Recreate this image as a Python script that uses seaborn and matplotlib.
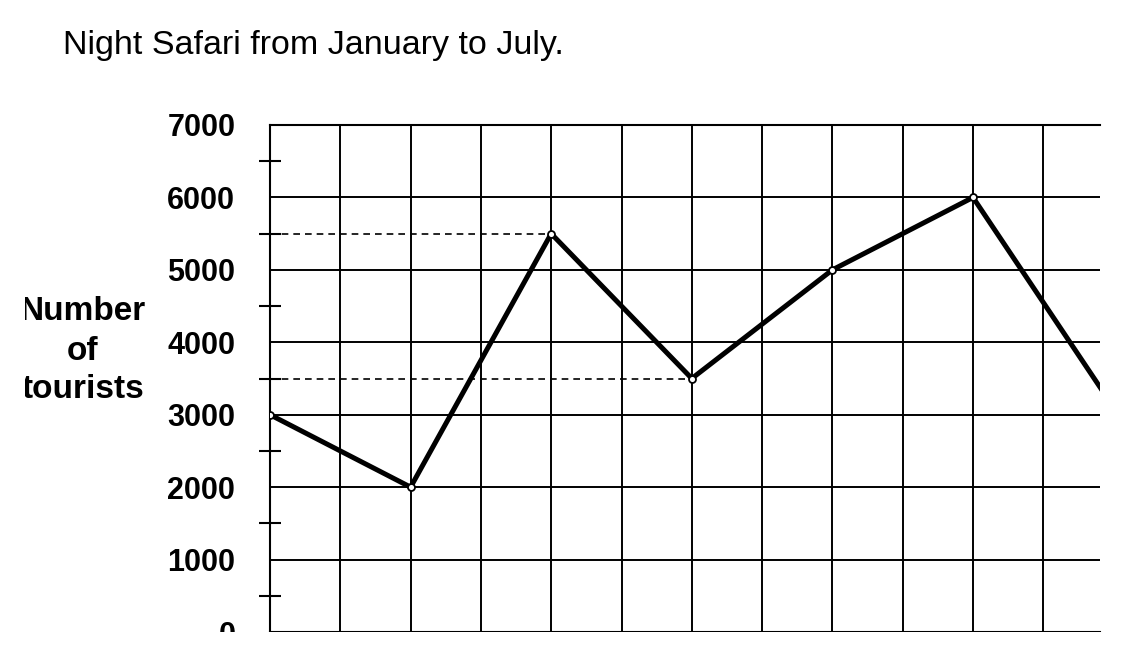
import matplotlib
matplotlib.use("Agg")
import matplotlib.pyplot as plt
import seaborn as sns
import numpy as np
import pandas as pd
from matplotlib.patches import Rectangle

# ---- data ----
months = ["Jan", "Feb", "Mar", "Apr", "May", "Jun", "Jul"]
tourists = [3000, 2000, 5500, 3500, 5000, 6000, 3100]
y_ticks = [0, 1000, 2000, 3000, 4000, 5000, 6000, 7000]
y_label_lines = ["Number", "of", "tourists"]
title = "Night Safari from January to July."
dashed_months = ["Mar", "Apr"]

sns.set_theme(style="white")
plt.rcParams["font.family"] = ["Liberation Sans", "DejaVu Sans"]

W, H = 1121, 656
fig = plt.figure(figsize=(W / 100, H / 100), dpi=100)
ax_left, ax_right, ax_top, ax_bottom = 270, 1100, 125, 632
ax = fig.add_axes([ax_left / W, (H - ax_bottom) / H,
                   (ax_right - ax_left) / W, (ax_bottom - ax_top) / H])

df = pd.DataFrame({"idx": np.arange(len(months)), "tourists": tourists})
sns.lineplot(data=df, x="idx", y="tourists", ax=ax, color="black",
             linewidth=3.6, marker="o", markersize=5,
             markerfacecolor="white", markeredgecolor="black",
             markeredgewidth=1.3, zorder=5)

month_px = 140.6
ax.set_xlim(0, (ax_right - ax_left) / month_px)
ax.set_ylim(0, 7000)

# dashed reference lines
for m in dashed_months:
    i = months.index(m)
    ax.plot([0, i], [tourists[i], tourists[i]], color="black",
            linestyle=(0, (4, 3)), linewidth=1.2, zorder=3)

# grid
ax.set_xticks(np.arange(0, 6.0, 0.5))
ax.set_xticklabels([])
ax.tick_params(axis="x", length=0)
ax.set_yticks(y_ticks)
ax.set_yticklabels([str(v) for v in y_ticks], fontsize=22,
                   fontweight="bold", color="black")
ax.set_yticks([v + 500 for v in y_ticks[:-1]], minor=True)
ax.tick_params(axis="y", which="major", direction="out", length=9,
               width=1.5, color="black", pad=16)
ax.tick_params(axis="y", which="minor", direction="inout", length=16,
               width=1.5, color="black", left=True)
ax.grid(True, which="major", color="black", linewidth=1.4)
ax.set_axisbelow(True)

for s in ["left", "bottom", "top"]:
    ax.spines[s].set_visible(True)
    ax.spines[s].set_color("black")
    ax.spines[s].set_linewidth(1.5)
ax.spines["right"].set_visible(False)
ax.set_xlabel("")
ax.set_ylabel("")

# y label (multi-line, centred)
for k, line in enumerate(y_label_lines):
    fig.text(83 / W, 1 - (312 + k * 39) / H, line, ha="center", va="center",
             fontsize=24, fontweight="bold", color="black")

# title
fig.text(63 / W, 1 - 54 / H, title, ha="left", va="baseline",
         fontsize=24.5, color="black")

# crop masks (scan edges)
fig.add_artist(Rectangle((0, 0), 1, (H - 632) / H, transform=fig.transFigure,
                         facecolor="white", edgecolor="none", zorder=100))
fig.add_artist(Rectangle((0, 0), 25 / W, 1, transform=fig.transFigure,
                         facecolor="white", edgecolor="none", zorder=100))

fig.savefig("out.png", dpi=100, facecolor="white")
